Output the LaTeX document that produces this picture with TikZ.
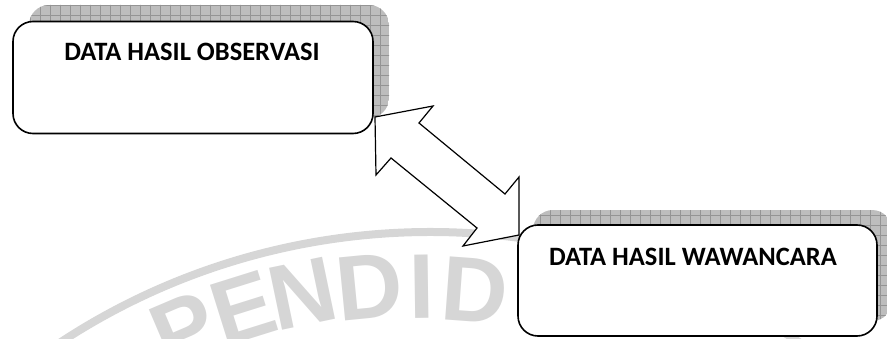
\documentclass[tikz,border=0pt]{standalone}
\usepackage{fontspec}
\setmainfont{Carlito}
\newfontfamily\wmfont{Liberation Sans}
\usetikzlibrary{calc}
\begin{document}
\begin{tikzpicture}[x=1pt,y=1pt,
  boxshape/.style={draw=black, line width=1.6pt, fill=white, rounded corners=20pt,
    minimum width=360pt, minimum height=112pt, inner sep=0pt},
  title/.style={font=\bfseries\fontsize{26.5}{30}\selectfont, inner sep=0pt},
  shadowfill/.style={fill=black!26},
  shadowgrid/.style={draw=black!42, line width=0.6pt},
  wmark/.style={text=black!16, font=\wmfont\bfseries\fontsize{92}{92}\selectfont, inner sep=0pt},
  dblarrow/.style={draw=black, line width=1.2pt, fill=white, line join=miter}
]
\useasboundingbox (0,0) rectangle (887,338);
\begin{scope}
\clip (0,0) rectangle (887,338);
% watermark
\coordinate (wc) at (430,-567);
\draw[black!16, line width=8pt] ($(wc)+(140:673)$) arc[start angle=140, end angle=50, radius=673];
\node[wmark, rotate=23.1] (wP) at ($(wc)+(113.1:626)$) {P};
\node[wmark, rotate=17.4] (wE) at ($(wc)+(107.4:626)$) {E};
\node[wmark, rotate=11.8] (wN) at ($(wc)+(101.8:624)$) {N};
\node[wmark, rotate=5.6] (wD) at ($(wc)+(95.6:621)$) {D};
\node[wmark, rotate=0.8] (wI) at ($(wc)+(90.8:618)$) {I};
\node[wmark, rotate=-4.2] (wD2) at ($(wc)+(85.8:616)$) {D};
% shadow 1
\begin{scope}
\clip[rounded corners=20pt] (29,220) rectangle (389,333);
\fill[shadowfill] (29,220) rectangle (389,333);
\draw[shadowgrid, shift={(0,3)}] (20,210) grid[step=10] (400,340);
\end{scope}
% box 1
\node[boxshape] (obs) at (193,260.5) {};
\node[title] (obst) at ($(obs.north)+(-1,-31)$) {DATA HASIL OBSERVASI};
% shadow 2
\begin{scope}
\clip[rounded corners=20pt] (533,17) rectangle (892,128);
\fill[shadowfill] (533,17) rectangle (892,128);
\draw[shadowgrid, shift={(0,3)}] (520,10) grid[step=10] (900,140);
\end{scope}
% box 2
\node[boxshape, minimum width=359pt, minimum height=111pt] (waw) at (697.5,57.5) {};
\node[title] (wawt) at ($(waw.north)+(-4.5,-33)$) {DATA HASIL WAWANCARA};
% double arrow
\coordinate (t1) at (375,221);
\coordinate (t2) at (519,103);
\draw[dblarrow] (t1) -- (433,232) -- (419,215) -- (505,144) -- (519,161)
  -- (t2) -- (463,92) -- (477,110) -- (391,180) -- (376,163) -- cycle;
\end{scope}
\end{tikzpicture}
\end{document}
